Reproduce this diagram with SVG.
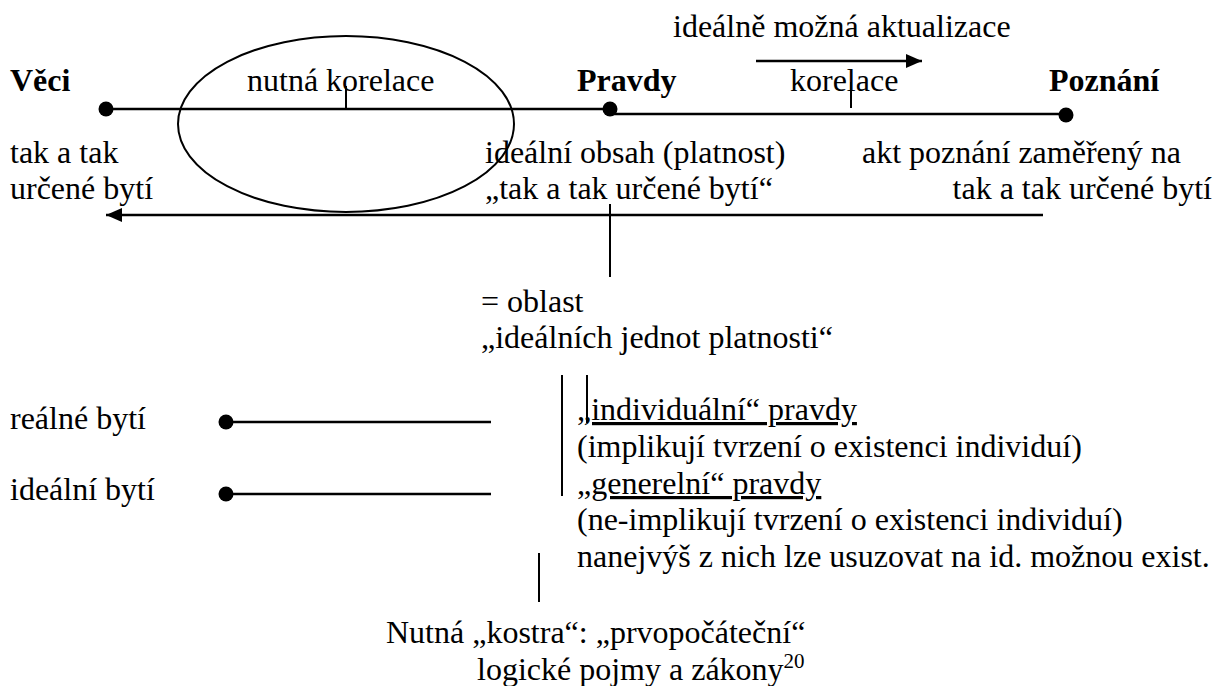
<svg xmlns="http://www.w3.org/2000/svg" width="1223" height="686" viewBox="0 0 1223 686" font-family="'Liberation Serif', 'Times New Roman', serif">
<defs>
<style>
text{font-family:"Liberation Serif","Times New Roman",serif;font-size:32px;fill:#000}
.b{font-weight:bold}
.u{text-decoration:underline}
.ln{stroke:#000;stroke-width:2.5;fill:none}
.thin{stroke:#000;stroke-width:2;fill:none}
.dot{fill:#000}
</style>
<marker id="ah" viewBox="0 0 16 14" refX="16" refY="7" markerWidth="16" markerHeight="14" markerUnits="userSpaceOnUse" orient="auto">
<path d="M0,0 L16,7 L0,14 Z" fill="#000"/>
</marker>
</defs>
<rect width="1223" height="686" fill="#fff"/>

<g id="connectors">
<line class="ln" x1="106" y1="109" x2="610" y2="109"/>
<line class="ln" x1="610" y1="114" x2="1066" y2="114"/>
<line class="thin" x1="346" y1="86" x2="346" y2="109"/>
<line class="thin" x1="851" y1="82" x2="851" y2="108"/>
<line class="ln" x1="756" y1="61" x2="922" y2="61" marker-end="url(#ah)"/>
<line class="ln" x1="1043" y1="215" x2="106" y2="215" marker-end="url(#ah)"/>
<line class="thin" x1="610" y1="204" x2="610" y2="277"/>
<line class="ln" x1="226" y1="422" x2="491" y2="422"/>
<line class="ln" x1="226" y1="494" x2="491" y2="494"/>
<line class="thin" x1="562" y1="375" x2="562" y2="496"/>
<line class="thin" x1="587" y1="375" x2="587" y2="423"/>
<line class="thin" x1="539" y1="553" x2="539" y2="602"/>
</g>

<g id="ellipse-korelace">
<ellipse class="thin" cx="346" cy="124" rx="168" ry="88"/>
<text x="247" y="91">nutná korelace</text>
</g>

<g id="veci">
<circle class="dot" cx="106" cy="109" r="7.5"/>
<text class="b" x="10" y="91">Věci</text>
<text x="10" y="163">tak a tak</text>
<text x="10" y="199">určené bytí</text>
</g>

<g id="pravdy">
<circle class="dot" cx="610" cy="109" r="7.5"/>
<text class="b" x="577" y="91">Pravdy</text>
<text x="485" y="163">ideální obsah (platnost)</text>
<text x="485" y="199">„tak a tak určené bytí“</text>
</g>

<g id="poznani">
<circle class="dot" cx="1066" cy="115" r="7.5"/>
<text class="b" x="1049" y="91">Poznání</text>
<text x="862" y="163">akt poznání zaměřený na</text>
<text x="1212" y="199" text-anchor="end">tak a tak určené bytí</text>
</g>

<g id="aktualizace">
<text x="673" y="37">ideálně možná aktualizace</text>
<text x="790" y="91">korelace</text>
</g>

<g id="oblast">
<text x="481" y="312">= oblast</text>
<text x="481" y="348">„ideálních jednot platnosti“</text>
</g>

<g id="realne">
<circle class="dot" cx="226" cy="422" r="7.5"/>
<text x="10" y="429">reálné bytí</text>
</g>

<g id="idealni">
<circle class="dot" cx="226" cy="494" r="7.5"/>
<text x="10" y="500">ideální bytí</text>
</g>

<g id="pravdy-druhy">
<text x="577" y="420"><tspan class="u">„individuální“ pravdy</tspan></text>
<text x="577" y="457">(implikují tvrzení o existenci individuí)</text>
<text x="577" y="494"><tspan class="u">„generelní“ pravdy</tspan></text>
<text x="577" y="530">(ne-implikují tvrzení o existenci individuí)</text>
<text x="577" y="567">nanejvýš z nich lze usuzovat na id. možnou exist.</text>
</g>

<g id="kostra">
<text x="386" y="643">Nutná „kostra“: „prvopočáteční“</text>
<text x="477" y="680">logické pojmy a zákony<tspan font-size="21" dy="-12">20</tspan></text>
</g>
</svg>
